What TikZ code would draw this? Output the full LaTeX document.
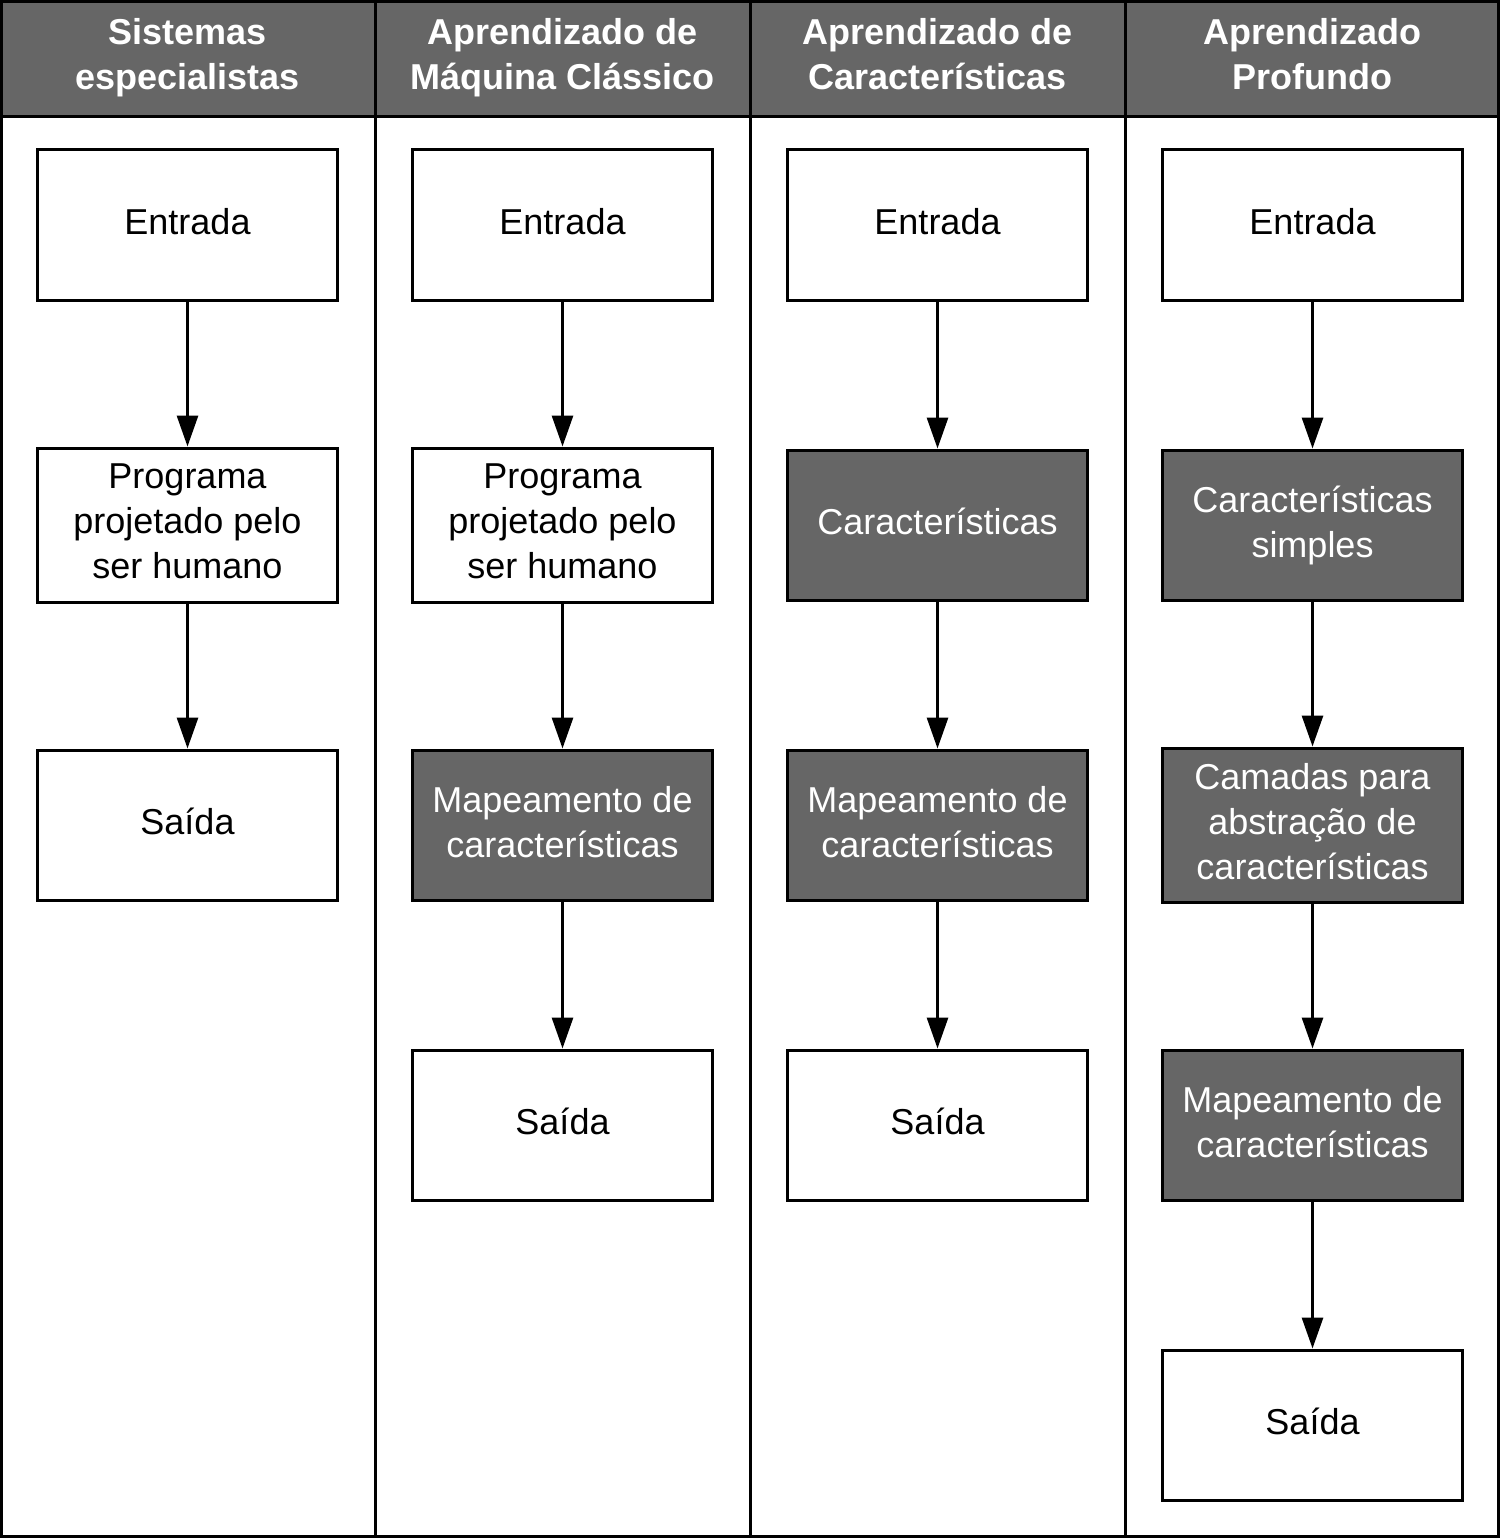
\documentclass[tikz,border=0pt]{standalone}
\usepackage{fontspec}
\setmainfont{Liberation Sans}
\usetikzlibrary{positioning,arrows.meta}
\definecolor{cinza}{HTML}{666666}

\begin{document}
\begin{tikzpicture}[x=1pt,y=1pt]
            \tikzstyle{main node}=[draw,line width=3pt,node distance=300pt,minimum width=300pt,minimum height=150pt,inner sep=0pt,text depth=7pt,align=center,font=\fontsize{36}{45}\selectfont]
            \tikzstyle{dark node}=[main node,fill=cinza,text=white]
            \tikzstyle{tall}=[minimum height=154pt]
            \tikzstyle{header}=[align=center,inner sep=0pt,text depth=8pt,text=white,font=\fontsize{36}{45}\selectfont\bfseries]
            \tikzstyle{seta}=[line width=3pt,-{Triangle[length=31pt,width=21pt]}]

            \useasboundingbox (0,0) rectangle (1500,-1538);
            % cabecalho e colunas
            \fill[cinza] (0,0) rectangle (1500,-117);
            \draw[line width=3pt] (0,-117) -- (1500,-117);
            \foreach \x in {375,750,1125}
                \draw[line width=3pt] (\x,0) -- (\x,-1538);
            \draw[line width=3pt] (1.5,-1.5) rectangle (1498.5,-1536.5);

            \node[header] (H1) at (187.5,-58) {Sistemas\\especialistas};
            \node[header] (H2) at (562.5,-58) {Aprendizado de\\Máquina Clássico};
            \node[header] (H3) at (937.5,-58) {Aprendizado de\\Características};
            \node[header] (H4) at (1312.5,-58) {Aprendizado\\Profundo};

            % Sistemas especialistas
            \node[main node] (A1) at (187.5,-225) {Entrada};
            \node[main node,tall] (B1) [below of=A1] {Programa\\projetado pelo\\ser humano};
            \node[main node] (C1) [below of=B1] {Saída};

            % Aprendizado de Maquina Classico
            \node[main node] (A2) at (562.5,-225) {Entrada};
            \node[main node,tall] (B2) [below of=A2] {Programa\\projetado pelo\\ser humano};
            \node[dark node] (C2) [below of=B2] {Mapeamento de\\características};
            \node[main node] (D2) [below of=C2] {Saída};

            % Aprendizado de Caracteristicas
            \node[main node] (A3) at (937.5,-225) {Entrada};
            \node[dark node] (B3) [below of=A3] {Características};
            \node[dark node] (C3) [below of=B3] {Mapeamento de\\características};
            \node[main node] (D3) [below of=C3] {Saída};

            % Aprendizado Profundo
            \node[main node] (A4) at (1312.5,-225) {Entrada};
            \node[dark node] (B4) [below of=A4] {Características\\simples};
            \node[dark node,tall] (C4) [below of=B4] {Camadas para\\abstração de\\características};
            \node[dark node] (D4) [below of=C4] {Mapeamento de\\características};
            \node[main node] (E4) [below of=D4] {Saída};

            \draw[seta] (A1) -- (B1);
            \draw[seta] (B1) -- (C1);
            \draw[seta] (A2) -- (B2);
            \draw[seta] (B2) -- (C2);
            \draw[seta] (C2) -- (D2);
            \draw[seta] (A3) -- (B3);
            \draw[seta] (B3) -- (C3);
            \draw[seta] (C3) -- (D3);
            \draw[seta] (A4) -- (B4);
            \draw[seta] (B4) -- (C4);
            \draw[seta] (C4) -- (D4);
            \draw[seta] (D4) -- (E4);
        \end{tikzpicture}
\end{document}
